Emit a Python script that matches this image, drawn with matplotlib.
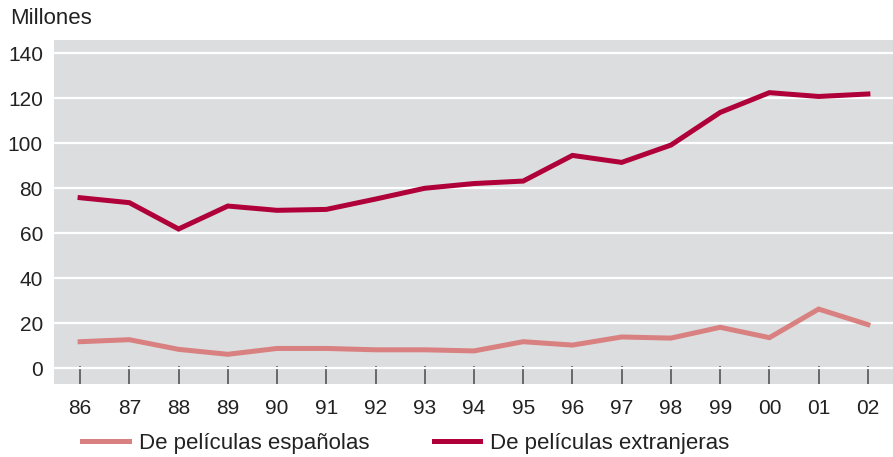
import matplotlib
matplotlib.use("Agg")
import matplotlib.pyplot as plt

plt.rcParams['font.family'] = ['Liberation Sans', 'DejaVu Sans']

# datos (millones de espectadores)
years = [86, 87, 88, 89, 90, 91, 92, 93, 94, 95, 96, 97, 98, 99, 100, 101, 102]
year_labels = ["86", "87", "88", "89", "90", "91", "92", "93", "94",
               "95", "96", "97", "98", "99", "00", "01", "02"]
espanolas = [11.7, 12.6, 8.3, 6.1, 8.7, 8.7, 8.1, 8.1, 7.6,
             11.7, 10.2, 13.8, 13.3, 18.1, 13.5, 26.2, 19.3]
extranjeras = [75.7, 73.5, 61.8, 72.0, 70.1, 70.5, 75.1, 79.9, 82.0,
               83.1, 94.5, 91.4, 99.1, 113.6, 122.4, 120.7, 121.8]
y_ticks = [0, 20, 40, 60, 80, 100, 120, 140]

c_esp = '#d98080'
c_ext = '#b0003a'
txt = '#222222'

fig = plt.figure(figsize=(8.93, 4.57), dpi=100)
ax = fig.add_axes([54 / 893, 73 / 457, 839 / 893, 344 / 457])
ax.set_facecolor('#dcdddf')

ax.plot(years, espanolas, color=c_esp, lw=3.6, solid_joinstyle='miter',
        label='De películas españolas', zorder=3)
ax.plot(years, extranjeras, color=c_ext, lw=3.6, solid_joinstyle='miter',
        label='De películas extranjeras', zorder=3)

ax.set_ylim(-7.1, 145.8)
ax.set_xlim(85.47, 102.51)
ax.set_yticks(y_ticks)
ax.set_xticks(years)
ax.set_xticklabels(year_labels)
ax.yaxis.grid(True, color='white', lw=1.6)
ax.set_axisbelow(True)
for s in ax.spines.values():
    s.set_visible(False)

ax.tick_params(axis='y', length=0, pad=8, labelsize=15, labelcolor=txt)
ax.tick_params(axis='x', direction='in', length=13, width=1.2, color='#555555',
               pad=11, labelsize=15, labelcolor=txt)

fig.text(10 / 893, 1 - 18 / 457, 'Millones', fontsize=16, color=txt,
         ha='left', va='center')

fig.legend(loc='center left', bbox_to_anchor=(62 / 893, 1 - 443 / 457),
           ncol=2, frameon=False, fontsize=16, handlelength=2.1,
           handletextpad=0.45, columnspacing=2.9, labelcolor=txt)

fig.savefig('out.png', dpi=100)
